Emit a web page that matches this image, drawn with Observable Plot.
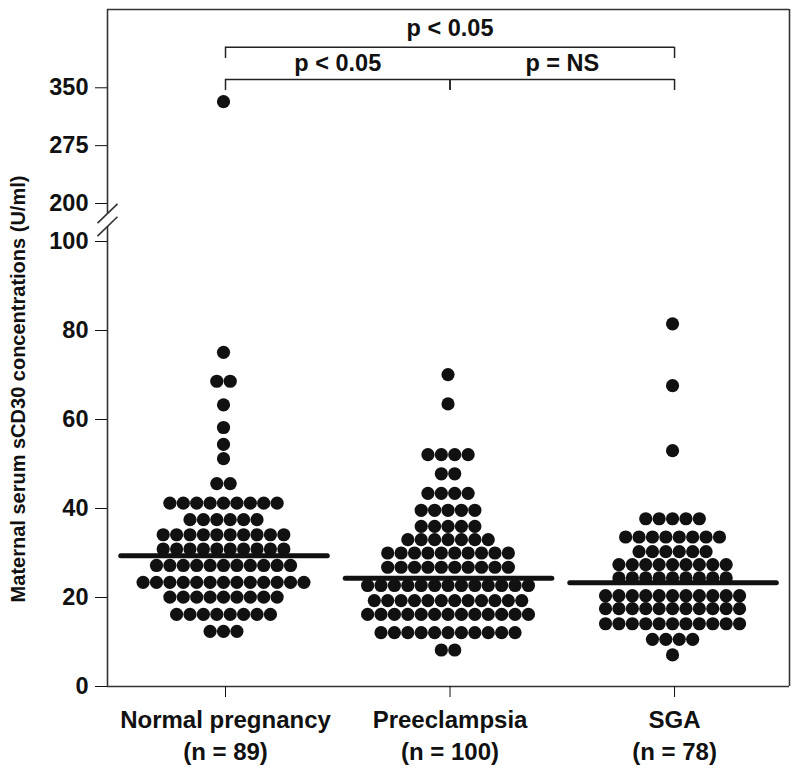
<!DOCTYPE html>
<html><head><meta charset="utf-8">
<script src="https://cdn.jsdelivr.net/npm/d3@7"></script>
<script src="https://cdn.jsdelivr.net/npm/@observablehq/plot@0.6"></script>
<style>body{margin:0;background:#fff} #chart svg{display:block}</style>
</head><body><div id="chart"></div>
<script>
// ---- data ----
const groups = ["Normal pregnancy", "Preeclampsia", "SGA"];
const groupN = [89, 100, 78];

// each dot row: value (U/ml) and number of dots in that row
const normalLevels = [332, 75.1, 68.6, 63.3, 58.2, 54.4, 51.2, 45.6, 41.2, 37.5, 34.1, 30.9, 27.2, 23.4, 20.1, 16.2, 12.4];
const normalCounts = [1, 1, 2, 1, 1, 1, 1, 2, 9, 6, 10, 10, 11, 13, 9, 8, 3];

const preLevels = [70.1, 63.5, 52.1, 47.8, 43.4, 39.6, 36.0, 33.0, 30.0, 26.8, 22.7, 19.3, 16.2, 12.1, 8.2];
const preCounts = [1, 1, 4, 2, 4, 5, 5, 7, 10, 10, 13, 12, 13, 11, 2];

const sgaLevels = [81.5, 67.6, 53.0, 37.7, 33.6, 30.3, 27.4, 24.4, 20.4, 17.5, 14.1, 10.6, 7.1];
const sgaCounts = [1, 1, 1, 5, 8, 6, 9, 9, 11, 11, 11, 4, 1];

const medians = [29.4, 24.3, 23.3];

const yTicks = [0, 20, 40, 60, 80, 100, 200, 275, 350];

// comparisons: [group a, group b, label, bracket tier]
const compA = [1, 1, 2];
const compB = [3, 2, 3];
const compLabels = ["p < 0.05", "p < 0.05", "p = NS"];
const compTier = [0, 1, 1];

// ---- layout constants ----
const W = 800, H = 770;
const X_MIN = 0.4744, X_MAX = 3.512;
const Y_TOP = 451.5;
const STEP = 0.0597;          // horizontal dot spacing in x units
const BREAK_LO = 139.5, BREAK_HI = 173.7, SLASH_DX = 0.0445, SLASH_DY = 25.5;
const tierLine = [402.6, 360.8], tierEnd = [388, 346.5], tierText = [427, 381.5];
const FONT = "'Liberation Sans', Arial, Helvetica, sans-serif";

// ---- build tables ----
const sets = [[normalLevels, normalCounts], [preLevels, preCounts], [sgaLevels, sgaCounts]];
const dots = [];
sets.forEach(([levels, counts], gi) => {
  levels.forEach((v, k) => {
    const n = counts[k];
    for (let j = 0; j < n; j++) dots.push({x: gi + 1 + (j - (n - 1) / 2) * STEP, y: v});
  });
});
const medianRows = medians.map((m, i) => ({x1: i + 1 - 0.46, x2: i + 1 + 0.46, y: m}));
const brackets = compA.map((a, i) => ({a, b: compB[i], label: compLabels[i], tier: compTier[i]}));
const bracketH = brackets.map(d => ({x1: d.a, x2: d.b, y: tierLine[d.tier]}));
const bracketV = brackets.flatMap(d => [d.a, d.b].map(x => ({x, y1: tierEnd[d.tier], y2: tierLine[d.tier]})));
const bracketT = brackets.map(d => ({x: (d.a + d.b) / 2, y: tierText[d.tier], label: d.label}));

const frameC = "#333";
const chart = Plot.plot({
  width: W, height: H,
  marginLeft: 107, marginRight: W - 789, marginTop: 9, marginBottom: H - 686,
  style: {fontFamily: FONT, background: "#fff"},
  x: {type: "linear", domain: [X_MIN, X_MAX]},
  y: {type: "linear", domain: [0, 100, 200, Y_TOP], range: [686, 241, 203, 9]},
  marks: [
    // frame
    Plot.ruleY([Y_TOP, 0], {stroke: frameC, strokeWidth: 1.6}),
    Plot.ruleX([X_MAX], {stroke: frameC, strokeWidth: 1.6}),
    Plot.ruleX([{y1: 0, y2: BREAK_LO}, {y1: BREAK_HI, y2: Y_TOP}], {x: () => X_MIN, y1: "y1", y2: "y2", stroke: frameC, strokeWidth: 1.6}),
    Plot.link([BREAK_LO, BREAK_HI], {x1: () => X_MIN - SLASH_DX, x2: () => X_MIN + SLASH_DX, y1: d => d - SLASH_DY, y2: d => d + SLASH_DY, stroke: frameC, strokeWidth: 1.6}),
    // axes
    Plot.axisY({ticks: yTicks, tickSize: 12, tickPadding: 7, fontSize: 23.5, fontWeight: "bold", label: null, color: "#111"}),
    Plot.axisX({ticks: [1, 2, 3], tickFormat: i => `${groups[i - 1]}\n(n = ${groupN[i - 1]})`, tickSize: 11, tickPadding: 8, fontSize: 24, lineHeight: 1.33, fontWeight: "bold", label: null, color: "#111"}),
    Plot.text(["Maternal serum sCD30 concentrations (U/ml)"], {frameAnchor: "left", textAnchor: "middle", rotate: -90, dx: -89, dy: 41, fontSize: 20, fontWeight: "bold", fill: "#111"}),
    // dots
    Plot.dot(dots, {x: "x", y: "y", r: 6.6, fill: "#111", stroke: "none", dx: -2}),
    // medians
    Plot.ruleY(medianRows, {x1: "x1", x2: "x2", y: "y", stroke: "#111", strokeWidth: 5, strokeLinecap: "round", dx: -1}),
    // brackets
    Plot.ruleY(bracketH, {x1: "x1", x2: "x2", y: "y", stroke: "#222", strokeWidth: 1.5}),
    Plot.ruleX(bracketV, {x: "x", y1: "y1", y2: "y2", stroke: "#222", strokeWidth: 1.5}),
    Plot.text(bracketT, {x: "x", y: "y", text: "label", fontSize: 23.5, fontWeight: "bold", fill: "#111"})
  ]
});
document.getElementById("chart").appendChild(chart);
</script>
</body></html>
